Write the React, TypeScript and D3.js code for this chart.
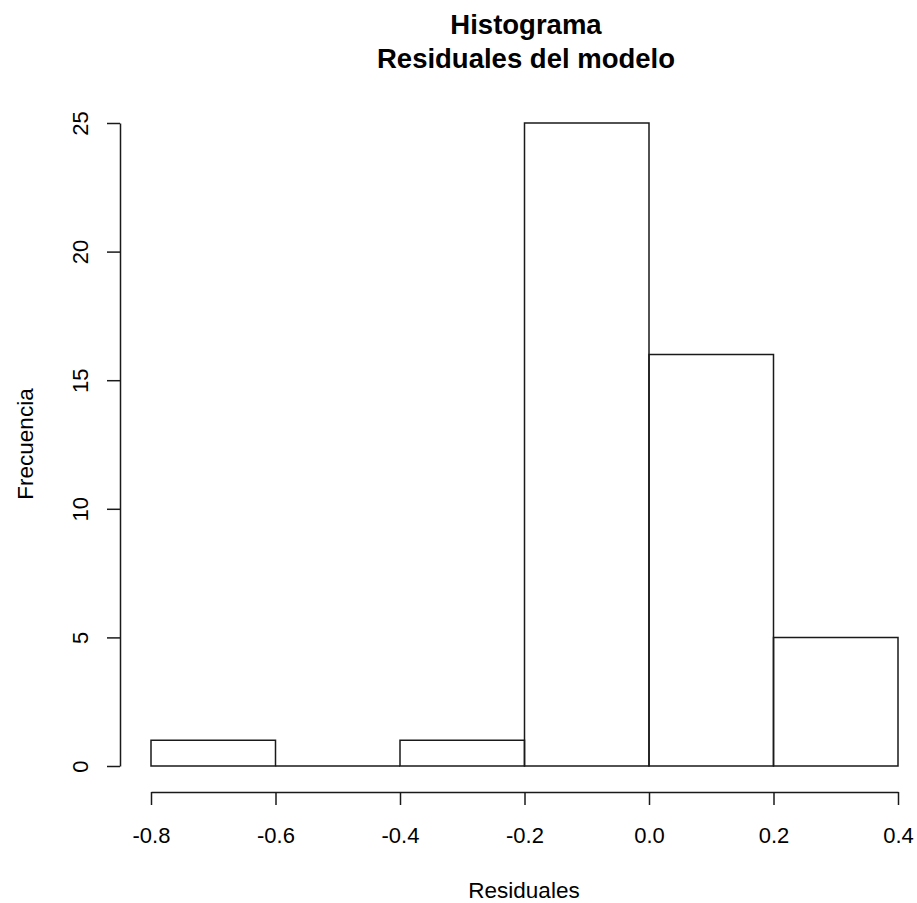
import React, { useEffect, useRef } from 'react';
import * as d3 from 'd3';

// histogram bins (R hist of model residuals)
const binStarts = [-0.8, -0.6, -0.4, -0.2, 0.0, 0.2];
const binEnds = [-0.6, -0.4, -0.2, 0.0, 0.2, 0.4];
const counts = [1, 0, 1, 25, 16, 5];

const xTicks = [-0.8, -0.6, -0.4, -0.2, 0.0, 0.2, 0.4];
const yTicks = [0, 5, 10, 15, 20, 25];

const titleLines = ['Histograma', 'Residuales del modelo'];
const xLabel = 'Residuales';
const yLabel = 'Frecuencia';

const FONT = '"Liberation Sans", Arial, sans-serif';

export default function App() {
  const ref = useRef<SVGSVGElement>(null);

  useEffect(() => {
    const svg = d3.select(ref.current);
    svg.selectAll('*').remove();

    const x = d3.scaleLinear().domain([-0.8, 0.4]).range([151, 898]);
    const y = d3.scaleLinear().domain([0, 25]).range([766, 123]);

    const bins = binStarts.map((s, i) => ({ x0: s, x1: binEnds[i], n: counts[i] }));

    // bars as closed paths, so an empty bin still shows as a line on the base
    const barPath = (d: { x0: number; x1: number; n: number }) => {
      const p = d3.path();
      p.moveTo(x(d.x0), y(0));
      p.lineTo(x(d.x0), y(d.n));
      p.lineTo(x(d.x1), y(d.n));
      p.lineTo(x(d.x1), y(0));
      p.closePath();
      return p.toString();
    };

    svg.append('g')
      .selectAll('path')
      .data(bins)
      .enter().append('path')
        .attr('d', barPath)
        .attr('fill', 'none')
        .attr('stroke', '#1a1a1a')
        .attr('stroke-width', 1.5);

    // x axis
    const xAxis = svg.append('g')
      .attr('transform', 'translate(0,792)')
      .call(d3.axisBottom(x)
        .tickValues(xTicks)
        .tickFormat(d => (+d).toFixed(1))
        .tickSize(13)
        .tickSizeOuter(0)
        .tickPadding(22));

    // y axis
    const yAxis = svg.append('g')
      .attr('transform', 'translate(120,0)')
      .call(d3.axisLeft(y)
        .tickValues(yTicks)
        .tickFormat(d => String(d))
        .tickSize(13)
        .tickSizeOuter(0));

    yAxis.selectAll('text')
      .attr('x', null)
      .attr('dy', null)
      .attr('text-anchor', 'middle')
      .attr('transform', 'translate(-32,0) rotate(-90)');

    [xAxis, yAxis].forEach(a => {
      a.attr('font-family', FONT).attr('font-size', 22);
      a.selectAll('path, line').attr('stroke', '#1a1a1a').attr('stroke-width', 1.5);
      a.selectAll('text').attr('fill', '#000');
    });

    // titles
    svg.append('g')
      .selectAll('text')
      .data(titleLines)
      .enter().append('text')
        .attr('x', 526)
        .attr('y', (d, i) => 34 + i * 33.5)
        .attr('text-anchor', 'middle')
        .attr('font-family', FONT)
        .attr('font-weight', 'bold')
        .attr('font-size', 27.5)
        .text(d => d);

    svg.append('text')
      .attr('x', 524)
      .attr('y', 898)
      .attr('text-anchor', 'middle')
      .attr('font-family', FONT)
      .attr('font-size', 22.5)
      .text(xLabel);

    svg.append('text')
      .attr('transform', 'translate(33,444) rotate(-90)')
      .attr('text-anchor', 'middle')
      .attr('font-family', FONT)
      .attr('font-size', 22.5)
      .text(yLabel);
  }, []);

  return (
    <svg
      ref={ref}
      width={917}
      height={903}
      style={{ position: 'absolute', left: 0, top: 0, background: '#fff', display: 'block' }}
    />
  );
}
